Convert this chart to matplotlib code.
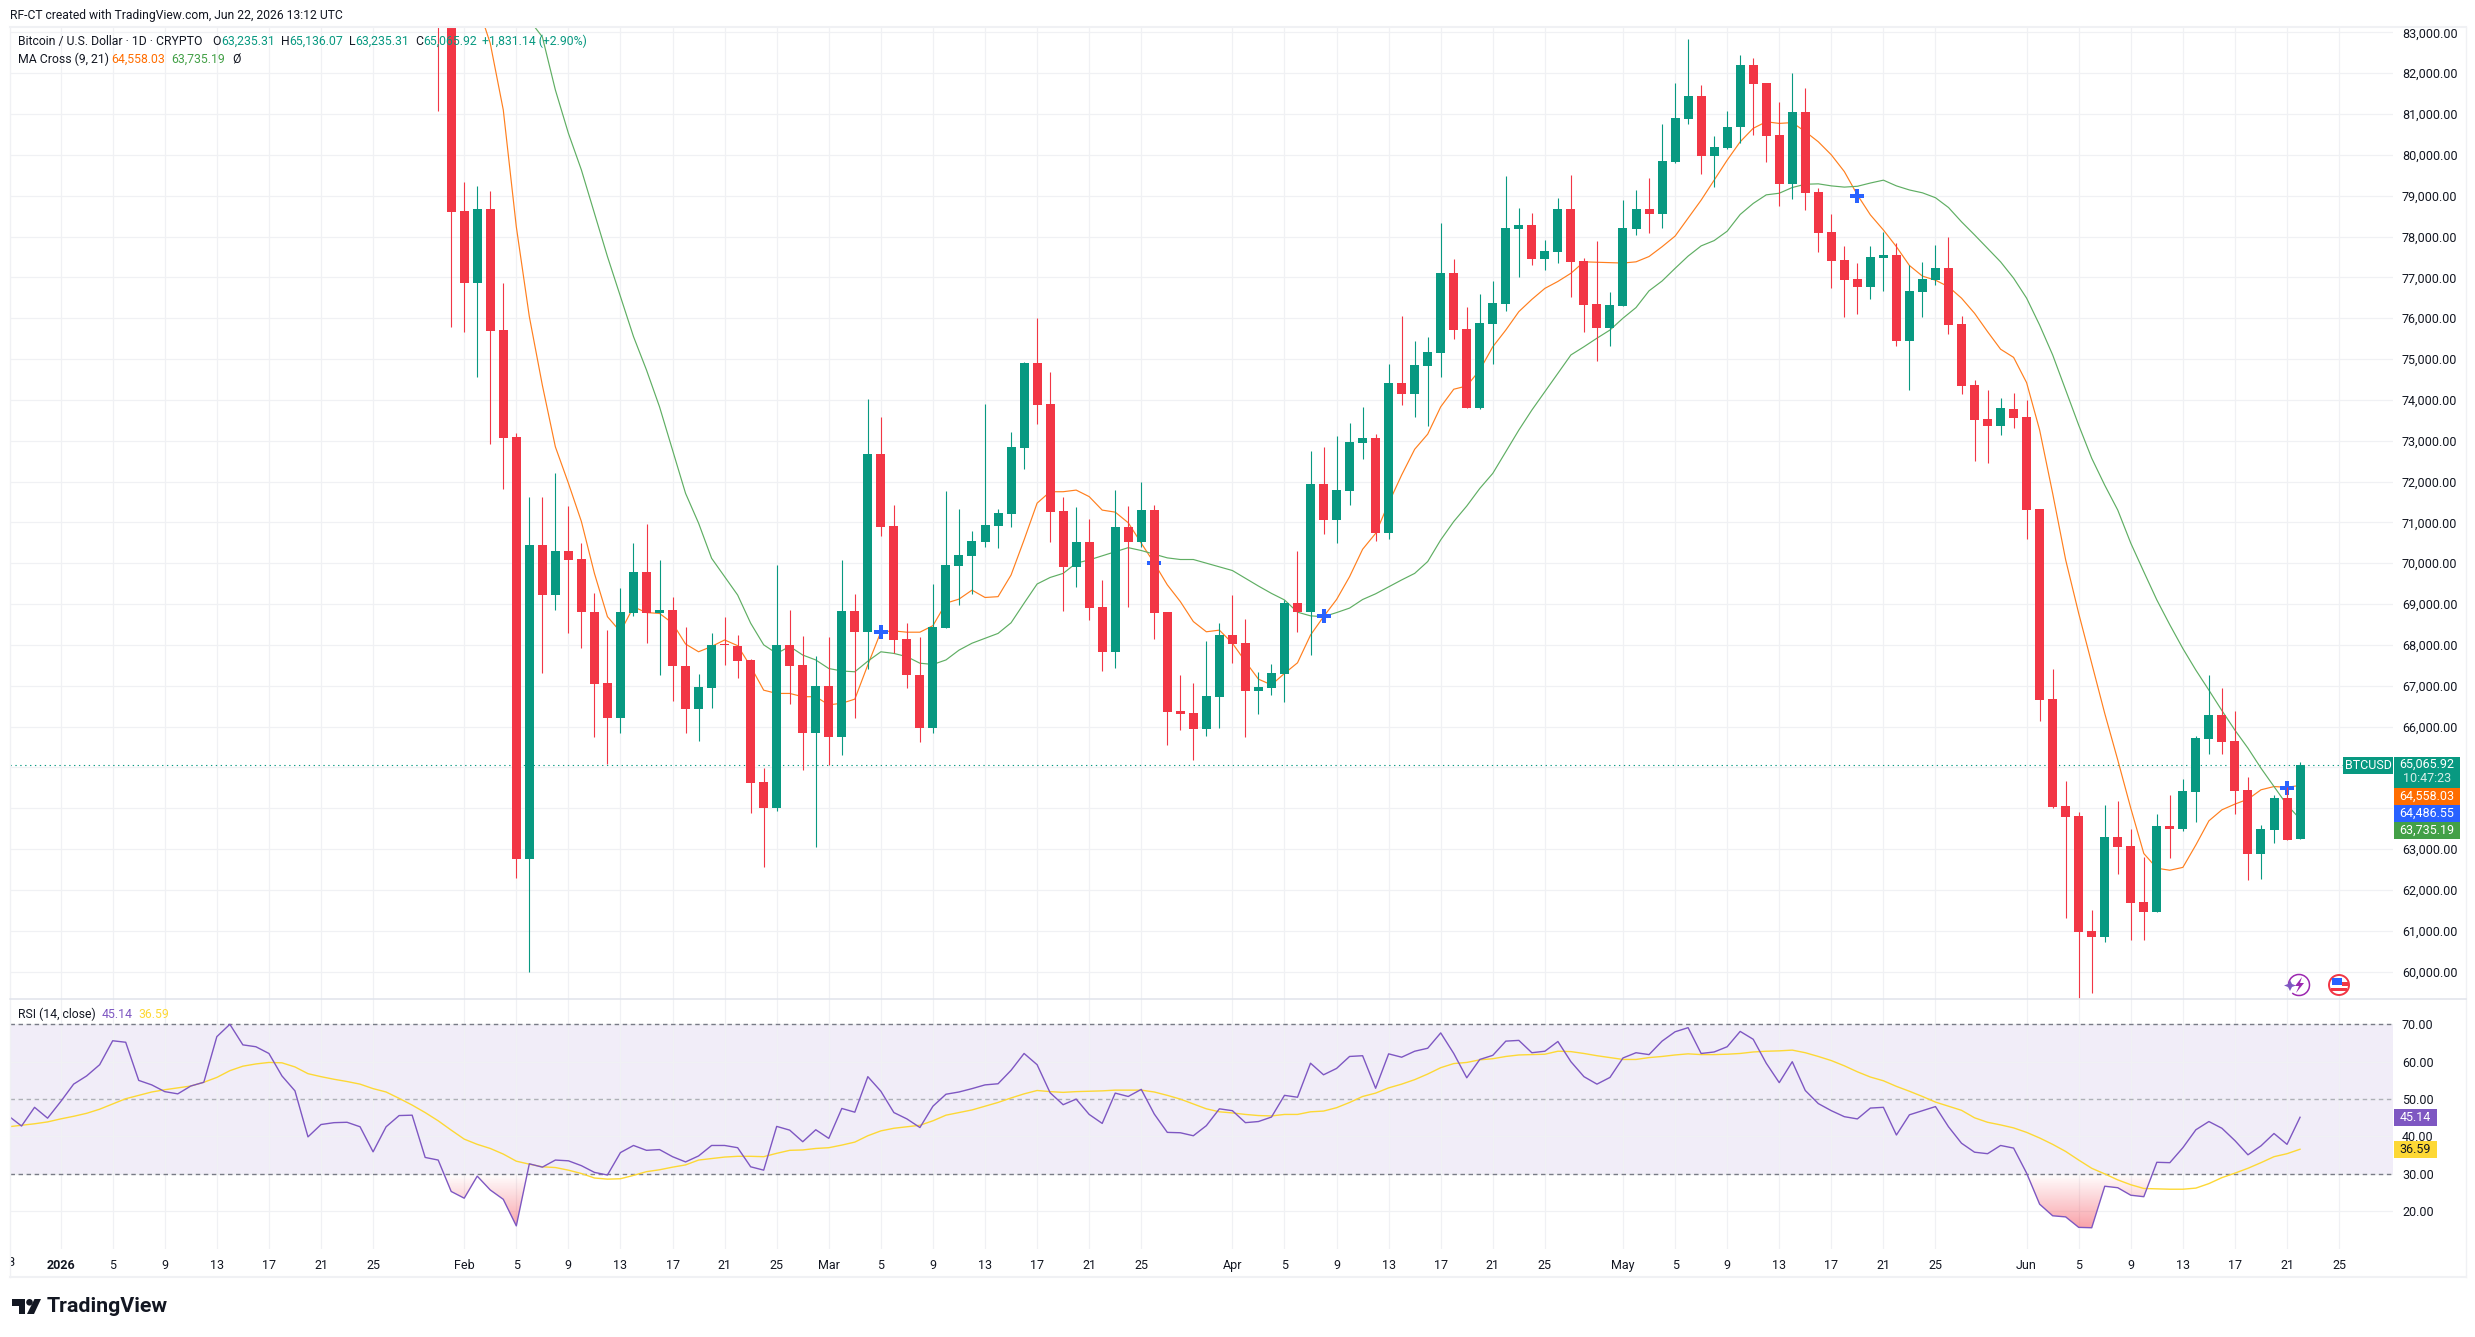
import numpy as np
import matplotlib
matplotlib.use('Agg')
import matplotlib.pyplot as plt
from matplotlib.patches import Rectangle, Circle, Polygon, Arc
from matplotlib.path import Path
from matplotlib.transforms import Bbox

plt.rcParams['font.family'] = ['Roboto', 'DejaVu Sans']

W, H = 2475, 1337
UP = '#089981'
DOWN = '#F23645'
TEXT = '#131722'
GRID = '#F0F1F4'

# daily candles, Jan 30 .. Jun 22 2026, day number counted from Jan 1
candle_days = np.arange(29, 173)
opens = [85200, 84300,
         78620, 76870, 78670, 75710, 73090, 62760, 70450, 69230, 70300, 70100, 68800, 67060, 66220, 68790, 69780, 68790, 68850, 67480, 66440, 66950, 68000, 67970, 67630, 64640, 64010, 68000, 67510, 65850,
         66990, 65750, 68830, 68320, 72670, 70910, 68140, 67260, 65970, 68420, 69930, 70180, 70520, 70910, 71200, 72830, 74900, 73900, 71280, 69910, 70520, 68930, 67820, 70890, 70530, 71300, 68800, 66380, 66330, 65940, 66720,
         68240, 68050, 66870, 66950, 67290, 69020, 68800, 71940, 71060, 71770, 72940, 73070, 70750, 74410, 74150, 74840, 75150, 77110, 75730, 73810, 75860, 76350, 78180, 78280, 77450, 77620, 78670, 77400, 76350, 75760,
         76310, 78180, 78670, 78560, 79820, 80890, 81440, 79980, 80170, 80670, 82200, 81760, 80490, 79290, 81050, 79090, 78110, 77420, 76960, 76770, 77480, 77550, 75450, 76640, 76940, 77230, 75860, 74360, 73530, 73370, 73780,
         73580, 71330, 66670, 64050, 63810, 60990, 60850, 63290, 63070, 61700, 61460, 63560, 63490, 64400, 65690, 66280, 65650, 64450, 62880, 63470, 64250, 63235.31]
highs = [85800, 84500,
         79330, 79240, 79110, 76860, 73180, 71620, 71620, 72220, 71400, 70490, 69270, 68360, 69390, 70490, 70960, 70080, 69170, 68440, 67290, 68290, 68680, 68240, 67650, 64980, 69950, 68850, 68220, 67730,
         68190, 70080, 69250, 74020, 73580, 71420, 68530, 68190, 69490, 71770, 71330, 70790, 73900, 71330, 73210, 74920, 76000, 74680, 71620, 71380, 71080, 69590, 71790, 71400, 71990, 71420, 68800, 67260, 67070, 68090, 68530,
         69220, 68630, 67340, 67530, 69110, 70300, 72750, 72840, 73110, 73430, 73820, 73160, 74880, 76050, 75440, 75540, 78330, 77450, 76270, 76590, 76910, 79480, 78700, 78580, 77910, 78940, 79510, 77470, 77890, 76640,
         78890, 79140, 79430, 80760, 81760, 82840, 81710, 80460, 81070, 82450, 82370, 81760, 81290, 82000, 81640, 79190, 78550, 77770, 77350, 77770, 78110, 77840, 77300, 77380, 77790, 77990, 76050, 74490, 74240, 74040, 74170,
         74000, 71330, 67410, 64670, 63910, 61510, 64080, 64180, 63490, 62800, 63860, 64320, 64710, 65770, 67260, 66940, 66380, 64760, 63590, 64320, 64510, 65136.07]
lows = [81070, 75790,
        75670, 74570, 72930, 71820, 62300, 60000, 67320, 68850, 68300, 67930, 65750, 65080, 65850, 68710, 68050, 67270, 66630, 65850, 65650, 66460, 67510, 67200, 63890, 62570, 63940, 66540, 64940, 63060,
        65060, 65300, 66220, 67420, 70670, 67790, 66950, 65630, 65850, 68420, 68980, 69250, 70400, 70370, 70890, 72310, 73410, 70530, 68830, 69420, 68610, 67360, 67430, 68930, 70400, 68150, 65550, 65910, 65180, 65770, 65960,
        67560, 65740, 66310, 66770, 66600, 68320, 67760, 70710, 70500, 71420, 72550, 70550, 70580, 73880, 73580, 73360, 74560, 75490, 73800, 73780, 74880, 76180, 77010, 77300, 77180, 77350, 76520, 75660, 74950, 75320,
        76310, 78040, 78090, 78210, 79800, 80760, 79530, 79210, 80140, 80280, 80490, 79820, 78750, 78920, 78650, 77620, 76740, 76030, 76100, 76470, 76670, 75320, 74240, 76030, 76810, 75610, 74140, 72500, 72450, 73140, 73310,
        70590, 66140, 64000, 61310, 59350, 59470, 60720, 62390, 60770, 60770, 61460, 62780, 63440, 63660, 65330, 65330, 63860, 62240, 62270, 63150, 63220, 63235.31]
closes = [84300, 78610,
          76870, 78670, 75690, 73070, 62760, 70450, 69230, 70300, 70080, 68810, 67050, 66220, 68800, 69780, 68790, 68850, 67470, 66440, 66970, 68000, 67990, 67610, 64620, 64010, 68000, 67490, 65850, 66990,
          65750, 68830, 68320, 72670, 70890, 68120, 67250, 65970, 68440, 69950, 70200, 70540, 70930, 71230, 72840, 74900, 73880, 71260, 69910, 70520, 68900, 67820, 70890, 70530, 71300, 68790, 66360, 66310, 65940, 66750, 68240,
          68030, 66870, 66970, 67310, 69020, 68800, 71940, 71060, 71790, 72970, 73070, 70750, 74410, 74150, 74850, 75170, 77110, 75720, 73810, 75880, 76370, 78210, 78280, 77450, 77650, 78670, 77380, 76320, 75760, 76320,
          78210, 78670, 78560, 79850, 80900, 81440, 79980, 80190, 80680, 82200, 81740, 80470, 79290, 81050, 79070, 78090, 77410, 76940, 76770, 77500, 77550, 75450, 76670, 76960, 77230, 75840, 74350, 73510, 73370, 73800, 73560,
          71300, 66650, 64040, 63780, 60970, 60850, 63290, 63050, 61680, 61460, 63560, 63490, 64420, 65720, 66280, 65620, 64420, 62880, 63490, 64250, 63220, 65065.92]

# 9 day average, from Feb 2
fast_days = np.arange(32, 173)
fast_ma = [83700, 82730, 81100, 78240, 76040, 74360, 72850, 71960, 71020, 69750, 68690, 68320, 68930, 68790, 68770, 68530, 68020, 67830, 67960, 68120, 67980, 67470, 66890, 66810, 66810, 66730, 66730,
           66530, 66570, 66670, 67510, 68320, 68340, 68310, 68310, 68470, 69020, 69120, 69340, 69160, 69180, 69710, 70570, 71470, 71750, 71750, 71790, 71630, 71300, 71250, 70990, 70490, 70000, 69470, 69060, 68570, 68320, 68360,
           68040, 67590, 67160, 67020, 67300, 67560, 68240, 68690, 69110, 69670, 70340, 70730, 71470, 72160, 72790, 73160, 73830, 74260, 74340, 74730, 75300, 75710, 76160, 76460, 76730, 76900, 77100, 77380, 77370, 77360,
           77350, 77380, 77510, 77750, 78010, 78450, 78890, 79380, 79870, 80320, 80650, 80810, 80770, 80790, 80570, 80320, 80000, 79590, 79020, 78530, 78160, 77750, 77290, 77030, 76930, 76770, 76490, 76120, 75670, 75240, 75040,
           74420, 73260, 71710, 70080, 68770, 67550, 66320, 65180, 64000, 62890, 62530, 62480, 62550, 63100, 63690, 63960, 64100, 64220, 64450, 64530, 64510, 64558.03]

# 21 day average, from Feb 6
slow_days = np.arange(36, 173)
slow_ma = [83300, 82890, 81590, 80530, 79630, 78570, 77510, 76530, 75550, 74730, 73830, 72770, 71710, 70980, 70120, 69670, 69220, 68530, 68000, 67790, 67960, 67750, 67630,
           67420, 67360, 67340, 67600, 67830, 67790, 67710, 67550, 67520, 67630, 67870, 68040, 68160, 68280, 68540, 69020, 69490, 69650, 69750, 70000, 70080, 70180, 70280, 70380, 70310, 70220, 70130, 70090, 70090, 70000, 69910,
           69820, 69630, 69440, 69260, 69100, 68800, 68710, 68690, 68790, 68900, 69110, 69250, 69420, 69590, 69750, 70040, 70570, 71020, 71400, 71830, 72200, 72730, 73260, 73750, 74200, 74650, 75100, 75300, 75510, 75710,
           76000, 76260, 76670, 76910, 77220, 77520, 77770, 77900, 78130, 78540, 78810, 79020, 79060, 79200, 79280, 79290, 79240, 79210, 79230, 79310, 79380, 79240, 79140, 79070, 78950, 78710, 78360, 78040, 77710, 77380, 76980,
           76490, 75830, 75100, 74240, 73380, 72570, 71910, 71300, 70490, 69790, 69100, 68490, 67910, 67380, 66890, 66390, 65910, 65470, 64980, 64530, 64080, 63735.19]

# days and levels where the two averages cross
cross_days = [63, 84, 97, 138, 171]
cross_prices = [68320, 70010, 68710, 78990, 64486.55]

# RSI and its average, from Dec 28
rsi_days = np.arange(-4, 173)
rsi = [45.5, 42.8, 47.8, 44.9, 49.3, 54.0, 56.2, 59.2, 65.6, 65.2, 55.0, 53.8, 52.0, 51.4, 53.5, 54.5, 66.7, 70.0, 64.5, 64.0, 62.2, 56.2, 52.2, 39.9, 43.2, 43.7, 43.8, 42.6, 35.9, 42.6, 45.6, 45.7, 34.4, 33.7, 25.3,
       23.5, 29.4, 25.7, 23.2, 16.1, 32.7, 31.8, 33.7, 33.5, 32.2, 30.4, 29.7, 35.7, 37.6, 36.3, 36.5, 34.6, 33.2, 34.8, 37.6, 37.6, 37.0, 31.9, 31.0, 42.7, 41.7, 38.6, 41.8,
       39.5, 47.5, 46.5, 56.0, 52.1, 46.4, 44.7, 42.4, 48.1, 51.3, 51.9, 52.8, 53.8, 54.1, 57.7, 62.2, 59.2, 51.7, 48.5, 50.0, 45.9, 43.5, 51.6, 50.7, 52.6, 46.0, 41.1, 41.0, 40.2, 42.9, 47.4,
       46.9, 43.7, 44.0, 45.2, 51.0, 50.5, 59.6, 56.5, 58.2, 61.4, 61.6, 52.9, 62.1, 61.2, 62.8, 63.6, 67.7, 62.2, 55.7, 60.6, 61.7, 65.5, 65.7, 62.4, 62.8, 65.4, 60.0, 56.0, 54.0, 55.8,
       61.0, 62.4, 61.9, 65.5, 68.0, 69.1, 62.2, 62.6, 64.0, 68.1, 66.0, 59.6, 54.4, 60.0, 52.3, 48.8, 46.9, 45.3, 44.7, 47.6, 47.8, 40.4, 45.8, 46.9, 48.0, 42.6, 38.2, 35.8, 35.4, 37.6, 36.9,
       30.2, 21.9, 18.8, 18.5, 15.7, 15.6, 26.7, 26.3, 24.3, 23.9, 33.1, 33.0, 37.0, 41.8, 44.0, 42.2, 38.9, 35.1, 37.5, 40.8, 37.9, 45.14]
rsi_ma = [42.6, 43.0, 43.4, 43.9, 44.7, 45.4, 46.2, 47.3, 48.7, 50.1, 51.0, 51.9, 52.5, 53.0, 53.5, 54.5, 55.8, 57.6, 58.8, 59.4, 59.8, 59.7, 58.6, 56.8, 56.0, 55.3, 54.7, 54.0, 52.8, 51.9, 50.2, 48.4, 46.4, 44.2, 41.7,
          39.3, 37.9, 36.8, 35.3, 33.4, 32.6, 31.9, 31.7, 31.0, 30.1, 28.9, 28.6, 28.7, 29.6, 30.6, 31.1, 31.8, 32.4, 33.7, 34.1, 34.5, 34.7, 34.7, 34.6, 35.5, 36.3, 36.4, 36.8,
          37.0, 37.7, 38.5, 40.2, 41.5, 42.2, 42.6, 43.0, 44.2, 45.7, 46.4, 47.1, 48.1, 49.1, 50.3, 51.4, 52.3, 52.0, 51.8, 52.0, 52.1, 52.2, 52.4, 52.4, 52.4, 51.9, 51.0, 50.0, 48.7, 47.4, 46.6,
          46.3, 45.9, 45.6, 45.5, 45.9, 45.9, 46.6, 46.8, 47.7, 49.1, 50.7, 51.6, 53.0, 54.0, 55.2, 56.7, 58.4, 59.5, 59.8, 60.5, 60.8, 61.4, 61.8, 61.9, 62.0, 62.8, 62.7, 62.2, 61.6, 61.1,
          60.6, 60.6, 61.1, 61.4, 61.8, 62.1, 61.9, 61.9, 62.0, 62.2, 62.6, 62.8, 62.9, 63.1, 62.4, 61.4, 60.3, 58.9, 57.3, 55.9, 54.9, 53.4, 52.1, 50.7, 49.2, 48.1, 47.0, 45.0, 43.8, 43.1, 42.3,
          41.1, 39.6, 37.9, 36.0, 33.7, 31.5, 30.0, 28.4, 27.1, 26.1, 26.0, 25.9, 25.9, 26.2, 27.4, 29.0, 30.2, 31.5, 33.0, 34.6, 35.4, 36.59]

# time axis labels
tick_days = [0, 4, 8, 12, 16, 20, 24, 31, 35, 39, 43, 47, 51, 55, 59, 63, 67, 71, 75, 79, 83, 90, 94, 98, 102, 106, 110, 114,
             120, 124, 128, 132, 136, 140, 144, 151, 155, 159, 163, 167, 171, 175]
tick_labels = ['2026', '5', '9', '13', '17', '21', '25', 'Feb', '5', '9', '13', '17', '21', '25', 'Mar', '5', '9', '13', '17', '21', '25',
               'Apr', '5', '9', '13', '17', '21', '25', 'May', '5', '9', '13', '17', '21', '25', 'Jun', '5', '9', '13', '17', '21', '25']
price_ticks = np.arange(60000, 83001, 1000)
rsi_ticks = [20, 30, 40, 50, 60, 70]

opens, highs, lows, closes = map(np.array, (opens, highs, lows, closes))
is_up = closes >= opens


def pane(x0, y0, x1, y1):
    # axes from pixel edges, y measured from the top
    return fig.add_axes([x0 / W, 1 - y1 / H, (x1 - x0) / W, (y1 - y0) / H])


fig = plt.figure(figsize=(W / 100, H / 100), dpi=100, facecolor='white')

ax = pane(10, 27, 2392.5, 998.5)
ax2 = pane(10, 998.5, 2392.5, 1248.5)
day_lim = ((10 - 60.6) / 13.02, (2392.5 - 60.6) / 13.02)

# price pane
ax.set_xlim(day_lim)
ax.set_ylim(59339, 83131)
ax.plot(fast_days, fast_ma, color='#FF7F1E', lw=0.85, zorder=2)
ax.plot(slow_days, slow_ma, color='#5FAE63', lw=0.85, zorder=2)
ax.plot(cross_days, cross_prices, ls='none', marker='P', ms=9.5, color='#2962FF', mew=0, zorder=2.5)
ax.axhline(closes[-1], color=UP, lw=0.8, dashes=(1.2, 3.2), zorder=1.5)
for up, color in ((True, UP), (False, DOWN)):
    mask = is_up == up
    ax.vlines(candle_days[mask], lows[mask], highs[mask], color=color, lw=0.8, zorder=3)
    bottoms = np.minimum(opens[mask], closes[mask])
    heights = np.maximum(np.abs(closes[mask] - opens[mask]), 35)
    ax.bar(candle_days[mask], heights, bottom=bottoms, width=9 / 13.02, color=color, lw=0, zorder=3)

ax.set_yticks(price_ticks)
ax.set_yticklabels(['{:,.2f}'.format(p) for p in price_ticks])
ax.set_xticks(tick_days)
ax.tick_params(axis='x', length=0, labelbottom=False)

# RSI pane
ax2.set_xlim(day_lim)
ax2.set_ylim(10.05, 76.9)
ax2.axhspan(30, 70, color='#7E57C2', alpha=0.1, lw=0, zorder=0.5)
ax2.axhline(70, color='#787B86', lw=1.0, dashes=(3.2, 2.6), zorder=1.5)
ax2.axhline(50, color='#787B86', lw=1.0, dashes=(3.2, 2.6), alpha=0.55, zorder=1.5)
ax2.axhline(30, color='#787B86', lw=1.0, dashes=(3.2, 2.6), zorder=1.5)

# red gradient under the 30 level, clipped to the areas above the RSI line
rsi_arr = np.array(rsi)
under = ax2.fill_between(rsi_days, rsi_arr, 30, where=rsi_arr < 30, interpolate=True, color='none', lw=0)
grad = np.zeros((64, 2, 4))
grad[..., :3] = matplotlib.colors.to_rgb('#F23645')
grad[..., 3] = np.linspace(0, 0.48, 64)[:, None]
img = ax2.imshow(grad, extent=(day_lim[0], day_lim[1], 15, 30), aspect='auto', interpolation='bilinear', zorder=1.2)
img.set_clip_path(Path.make_compound_path(*under.get_paths()), transform=ax2.transData)
ax2.set_xlim(day_lim)
ax2.set_ylim(10.05, 76.9)

ax2.plot(rsi_days, rsi_ma, color='#FDD835', lw=1.0, zorder=2)
ax2.plot(rsi_days, rsi, color='#7E57C2', lw=1.0, zorder=3)
ax2.set_yticks(rsi_ticks)
ax2.set_yticklabels(['{:.2f}'.format(v) for v in rsi_ticks])
ax2.set_xticks(tick_days)
ax2.set_xticklabels(tick_labels)
ax2.get_xticklabels()[0].set_fontweight('bold')
ax2.tick_params(axis='x', length=0, pad=7.5, labelsize=9, labelcolor=TEXT)

for a in (ax, ax2):
    a.grid(True, color=GRID, lw=0.9, zorder=0)
    a.set_axisbelow(True)
    a.yaxis.tick_right()
    a.tick_params(axis='y', length=0, pad=6.8, labelsize=9, labelcolor=TEXT)
    for s in a.spines.values():
        s.set_visible(False)
    a.patch.set_alpha(0)

# tick that falls just off the left edge keeps its visible part
t28 = ax2.text(-4, 0, '28', transform=ax2.get_xaxis_transform(), fontsize=9, color=TEXT, ha='center', va='center')
t28.set_position((-4, -(1262.7 - 1248.5) / 250))
t28.set_clip_box(Bbox([[10, 0], [200, H]]))
t28.set_clip_on(True)

# everything else sits on a pixel overlay
ov = fig.add_axes([0, 0, 1, 1], zorder=10)
ov.set_xlim(0, W)
ov.set_ylim(H, 0)
ov.axis('off')

for xs, ys, c, lw in (([9.5, 2465.5], [26.5, 26.5], '#F0F1F4', 1.5),
                      ([9.5, 9.5], [26.5, 1277], '#F0F1F4', 1.0),
                      ([2465.5, 2465.5], [26.5, 1277], '#F0F1F4', 1.0),
                      ([9.5, 2465.5], [1277, 1277], '#F0F1F4', 1.5),
                      ([9.5, 2465.5], [998.5, 998.5], '#E0E3EB', 1.1)):
    ov.plot(xs, ys, color=c, lw=lw)


def label(x, y, s, color=TEXT, size=8.8, **kw):
    ov.text(x, y, s, color=color, fontsize=size, va='center', **kw)


label(10, 15, 'RF-CT created with TradingView.com, Jun 22, 2026 13:12 UTC', size=8.7)
label(18, 41.7, 'Bitcoin / U.S. Dollar · 1D · CRYPTO')
label(212.7, 41.7, 'O')
label(221, 41.7, '63,235.31', UP)
label(280.6, 41.7, 'H')
label(289, 41.7, '65,136.07', UP)
label(348.6, 41.7, 'L')
label(355, 41.7, '63,235.31', UP)
label(415, 41.7, 'C')
label(423, 41.7, '65,065.92', UP)
label(481.8, 41.7, '+1,831.14 (+2.90%)', UP)
label(18, 59, 'MA Cross (9, 21)')
label(111.5, 59, '64,558.03', '#FF6D00')
label(171.5, 59, '63,735.19', '#43A047')
label(232.4, 59, 'Ø')
label(18, 1014, 'RSI (14, close)')
label(102, 1014, '45.14', '#7E57C2')
label(138.5, 1014, '36.59', '#FDD835')

# price and indicator tags on the right scale
for x0, x1, y0, y1, c, s, tc in ((2343, 2393, 757.3, 774, UP, 'BTCUSD', 'white'),
                                 (2394, 2460, 757.3, 787.5, UP, None, 'white'),
                                 (2394, 2460, 788, 805, '#FF6D00', '64,558.03', 'white'),
                                 (2394, 2460, 805, 822, '#2962FF', '64,486.55', 'white'),
                                 (2394, 2460, 822, 839, '#43A047', '63,735.19', 'white'),
                                 (2394, 2437, 1109, 1125.7, '#7E57C2', '45.14', 'white'),
                                 (2394, 2437, 1141, 1157.7, '#FDD835', '36.59', TEXT)):
    ov.add_patch(Rectangle((x0, y0), x1 - x0, y1 - y0, color=c, lw=0))
    if s:
        label((x0 + x1) / 2, (y0 + y1) / 2, s, tc, size=9, ha='center')
label(2427, 764.7, '65,065.92', 'white', size=9, ha='center')
label(2427, 778.7, '10:47:23', '#D5EDE8', size=9, ha='center')

# lightning badge
ov.add_patch(Arc((2299, 985), 21, 21, theta1=-190, theta2=130, color='#9C27B0', lw=1.1))
ov.add_patch(Polygon([[2302, 977], [2295, 986], [2299, 986], [2296, 993], [2304, 983], [2300, 983]], color='#9C27B0', lw=0))
ov.add_patch(Polygon([[2290, 980], [2292, 984], [2296, 985.5], [2292, 987], [2290, 991], [2288, 987], [2284, 985.5], [2288, 984]], color='#7E57C2', lw=0))

# flag badge
ov.add_patch(Circle((2339, 985), 10, fc='white', ec='#F23645', lw=1.4))
ov.add_patch(Rectangle((2332, 978), 10, 7, color='#2962FF', lw=0))
ov.add_patch(Rectangle((2342, 982), 6, 3.5, color='#F23645', lw=0))
ov.add_patch(Rectangle((2331, 988), 16, 3, color='#F23645', lw=0))

# logo
ov.add_patch(Polygon([[12, 1299], [25, 1299], [25, 1314], [18.5, 1314], [18.5, 1305.5], [12, 1305.5]], color=TEXT, lw=0))
ov.add_patch(Circle((29.5, 1302.3), 3.3, color=TEXT, lw=0))
ov.add_patch(Polygon([[34.5, 1299], [41, 1299], [34, 1314], [27, 1314]], color=TEXT, lw=0))
ov.text(47, 1306.5, 'TradingView', color=TEXT, fontsize=15.4, fontweight='bold', va='center')

fig.savefig('out.png', dpi=100)
